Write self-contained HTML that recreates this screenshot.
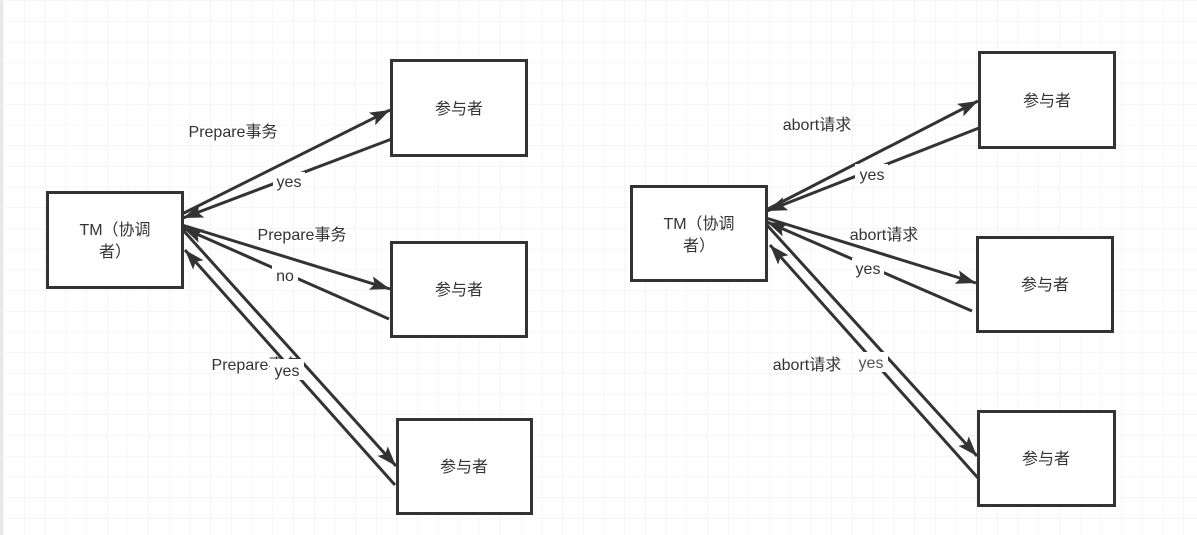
<!DOCTYPE html>
<html><head><meta charset="utf-8"><style>
html,body{margin:0;padding:0;width:1197px;height:535px;overflow:hidden;background:#fff}
svg{display:block}
text{font-family:"Liberation Sans","Noto Sans CJK SC",sans-serif;font-size:16px;fill:#333}
</style></head><body>
<svg width="1197" height="535" viewBox="0 0 1197 535" xmlns="http://www.w3.org/2000/svg">
<defs>
<pattern id="g" x="3.5" y="0.5" width="20.7" height="20.7" patternUnits="userSpaceOnUse">
<path d="M0 0H20.7M0 0V20.7" stroke="#ececec" stroke-width="1" fill="none"/>
</pattern>
<marker id="a" viewBox="0 0 10 10" refX="10" refY="5" markerWidth="7" markerHeight="7" orient="auto" markerUnits="userSpaceOnUse">
</marker>
<marker id="ar" viewBox="0 0 20 14" refX="20" refY="7" markerWidth="20" markerHeight="14" orient="auto" markerUnits="userSpaceOnUse">
<path d="M0 0L20 7L0 14L4 7Z" fill="#333"/>
</marker>
</defs>
<rect width="1197" height="535" fill="url(#g)"/>
<rect x="0" y="0" width="3" height="535" fill="#e8e8e8"/>
<g stroke="#333" stroke-width="3" fill="none">
<!-- left -->
<line x1="182" y1="214" x2="390" y2="110" marker-end="url(#ar)"/>
<line x1="397" y1="137" x2="183" y2="218" marker-end="url(#ar)"/>
<line x1="182" y1="225" x2="390" y2="289" marker-end="url(#ar)"/>
<line x1="389" y1="319" x2="183" y2="228" marker-end="url(#ar)"/>
<line x1="182" y1="229" x2="396" y2="466" marker-end="url(#ar)"/>
<line x1="395" y1="485" x2="185" y2="250" marker-end="url(#ar)"/>
<!-- right -->
<line x1="766" y1="210" x2="978" y2="101" marker-end="url(#ar)"/>
<line x1="979" y1="128" x2="767" y2="211" marker-end="url(#ar)"/>
<line x1="766" y1="218" x2="976" y2="283" marker-end="url(#ar)"/>
<line x1="972" y1="311" x2="767" y2="222" marker-end="url(#ar)"/>
<line x1="766" y1="224" x2="977" y2="456" marker-end="url(#ar)"/>
<line x1="978" y1="478" x2="770" y2="245" marker-end="url(#ar)"/>
</g>
<g stroke="#333" stroke-width="3" fill="#fff">
<rect x="47.5" y="192.5" width="135" height="95"/>
<rect x="391.5" y="60.5" width="135" height="95"/>
<rect x="391.5" y="242.5" width="135" height="94"/>
<rect x="397.5" y="419.5" width="134" height="94"/>
<rect x="631.5" y="186.5" width="135" height="94"/>
<rect x="979.5" y="52.5" width="135" height="95"/>
<rect x="977.5" y="237.5" width="135" height="94"/>
<rect x="978.5" y="411.5" width="136" height="94"/>
</g>
<g fill="#fff">
<rect x="273" y="172" width="32" height="19"/>
<rect x="272" y="265" width="26" height="19"/>
<rect x="270" y="359" width="34" height="20"/>
<rect x="855" y="164" width="33" height="19"/>
<rect x="852" y="258" width="32" height="19"/>
<rect x="855" y="352" width="33" height="20"/>
</g>
<g text-anchor="middle">
<text x="233" y="137">Prepare事务</text>
<text x="289" y="187">yes</text>
<text x="302" y="240">Prepare事务</text>
<text x="285" y="281">no</text>
<text x="256" y="370">Prepare事务</text>
<rect x="270" y="359" width="34" height="21" fill="#fff"/>
<text x="287" y="376" fill="#555">yes</text>
<text x="817" y="130">abort请求</text>
<text x="872" y="180">yes</text>
<text x="884" y="240">abort请求</text>
<text x="868" y="274">yes</text>
<text x="807" y="370">abort请求</text>
<text x="871" y="368" style="fill:#555">yes</text>
<text x="115" y="235">TM（协调</text>
<text x="115" y="257">者）</text>
<text x="459" y="114">参与者</text>
<text x="459" y="295">参与者</text>
<text x="464" y="472">参与者</text>
<text x="699" y="229">TM（协调</text>
<text x="699" y="251">者）</text>
<text x="1047" y="106">参与者</text>
<text x="1045" y="290">参与者</text>
<text x="1046" y="464">参与者</text>
</g>
</svg>
</body></html>
